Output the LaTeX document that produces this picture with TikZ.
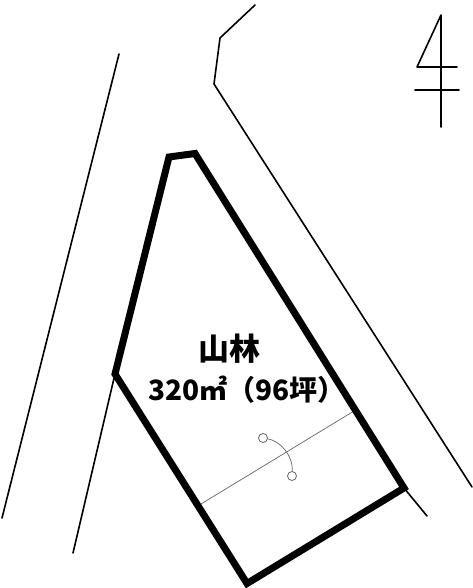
\documentclass[tikz,border=0pt]{standalone}
\usepackage{fontspec}
\newfontfamily\cjk{Noto Sans CJK JP}
\tikzset{
  thinline/.style={line width=1.6pt,line cap=round,line join=round,black},
  lot/.style={line width=7pt,line join=miter,black},
  grayline/.style={line width=0.7pt,gray!80!black},
  marker/.style={circle,draw=gray!80!black,line width=0.8pt,fill=white,minimum size=9pt,inner sep=0pt},
  label/.style={text=black,inner sep=0pt,anchor=base}
}
\begin{document}
\begin{tikzpicture}[x=1pt,y=-1pt]
\useasboundingbox (0,0) rectangle (472,588);
\fill[white] (0,0) rectangle (472,588);
% lot corners
\coordinate (a) at (169,157);
\coordinate (b) at (195,153.5);
\coordinate (c) at (404,488);
\coordinate (d) at (247,583.5);
\coordinate (e) at (115,374);
% thin lines
\coordinate (l1) at (119,54);
\coordinate (l2) at (2,518);
\coordinate (l3) at (73,553);
\coordinate (r1) at (255,5);
\coordinate (r2) at (220,38);
\coordinate (r3) at (214,84);
\coordinate (r4) at (472,487);
\coordinate (r5) at (427,516);
\draw[thinline] (l1) -- (l2);
\draw[thinline] (e) -- (l3);
\draw[thinline] (r1) -- (r2) -- (r3) -- (r4);
\draw[thinline] (c) -- (r5);
% divider
\coordinate (s1) at (201,504);
\coordinate (s2) at (354,411);
\draw[grayline] (s1) -- (s2);
\draw[lot] (a) -- (b) -- (c) -- (d) -- (e) -- cycle;
% arc marker
\node[marker] (m1) at (263,438) {};
\node[marker] (m2) at (292,476) {};
\draw[grayline] (m1) .. controls (280,441) and (293,455) .. (m2);
% north
\coordinate (n1) at (441,15);
\coordinate (n2) at (417,67);
\coordinate (n3) at (457,67);
\coordinate (n4) at (441,127);
\coordinate (n5) at (415,90);
\coordinate (n6) at (459,90);
\draw[thinline] (n4) -- (n1) -- (n2) -- (n3);
\draw[thinline] (n5) -- (n6);
% text
\node[label,font=\cjk\bfseries\fontsize{31}{31}\selectfont] (t1) at (229,360) {山林};
\node[label,font=\cjk\bfseries\fontsize{28}{28}\selectfont] (t2) at (247,400) {320㎡（96坪）};
\end{tikzpicture}
\end{document}
